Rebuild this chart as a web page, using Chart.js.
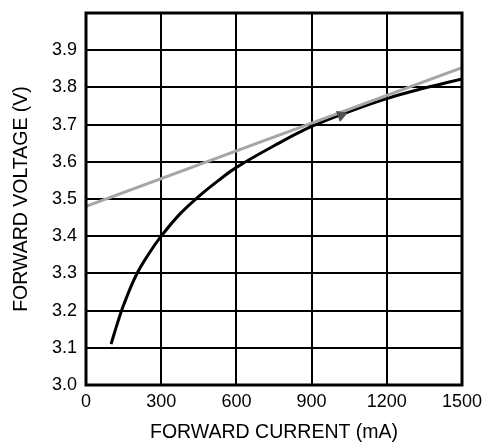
<!DOCTYPE html>
<html>
<head>
<meta charset="utf-8">
<script src="https://cdn.jsdelivr.net/npm/chart.js@4"></script>
<style>
html,body{margin:0;padding:0;background:#fff;}
#wrap{width:482px;height:444px;}
</style>
</head>
<body>
<div id="wrap"><canvas id="c" width="482" height="444"></canvas></div>
<script>
const currentMA = [100, 125, 150, 200, 250, 300, 375, 450, 525, 600, 750, 900, 1050, 1200, 1350, 1500];
const forwardVoltage = [3.11, 3.165, 3.215, 3.295, 3.352, 3.40, 3.46, 3.507, 3.548, 3.585, 3.643, 3.695, 3.735, 3.77, 3.798, 3.823];
const fitCurrent = [0, 1500];
const fitVoltage = [3.48, 3.853];
const markerCurrent = [1018];
const markerVoltage = [3.725];
const xTicks = [0, 300, 600, 900, 1200, 1500];
const yTicks = ['3.0','3.1','3.2','3.3','3.4','3.5','3.6','3.7','3.8','3.9'];

const frame = {
  id: 'frame',
  afterDatasetsDraw(chart) {
    const {ctx, chartArea: a} = chart;
    ctx.save();
    ctx.strokeStyle = '#000';
    ctx.lineWidth = 3;
    ctx.strokeRect(a.left, a.top, a.right - a.left, a.bottom - a.top);
    ctx.restore();
  }
};

const family = 'Liberation Sans, Arial, sans-serif';
const tickFont = {family, size: 18};
const titleFont = {family, size: 19.5};

new Chart(document.getElementById('c'), {
  type: 'scatter',
  data: {
    datasets: [
      {
        data: currentMA.map((x, i) => ({x, y: forwardVoltage[i]})),
        showLine: true, borderColor: '#000', borderWidth: 3,
        pointRadius: 0, tension: 0.4, order: 3
      },
      {
        data: fitCurrent.map((x, i) => ({x, y: fitVoltage[i]})),
        showLine: true, borderColor: '#a6a6a6', borderWidth: 3,
        pointRadius: 0, order: 2
      },
      {
        data: markerCurrent.map((x, i) => ({x, y: markerVoltage[i]})),
        showLine: false, pointStyle: 'triangle', pointRadius: 6, rotation: 70,
        backgroundColor: '#505050', borderColor: '#505050', order: 1
      }
    ]
  },
  options: {
    responsive: false,
    animation: false,
    devicePixelRatio: 1,
    layout: {padding: {top: 13, right: 20, left: 0, bottom: 0}},
    plugins: {legend: {display: false}, tooltip: {enabled: false}},
    scales: {
      x: {
        type: 'linear', min: 0, max: 1500,
        afterBuildTicks: s => { s.ticks = xTicks.map(v => ({value: v})); },
        ticks: {color: '#000', font: tickFont, padding: 6, maxRotation: 0,
          callback: v => String(v)},
        grid: {color: '#000', lineWidth: 2, drawTicks: false},
        border: {display: false},
        title: {display: true, text: 'FORWARD CURRENT (mA)', color: '#000', font: titleFont, padding: {top: 6, bottom: 0}},
        afterFit: s => { s.height = 59; s.paddingLeft = 0; s.paddingRight = 0; }
      },
      y: {
        type: 'linear', min: 3.0, max: 4.0,
        afterBuildTicks: s => { s.ticks = yTicks.map(v => ({value: parseFloat(v)})).concat([{value: 4.0}]); },
        ticks: {color: '#000', font: tickFont, padding: 9,
          callback: (v) => { const t = yTicks.find(s => Math.abs(parseFloat(s) - v) < 1e-6); return t === undefined ? '' : t; }},
        grid: {color: '#000', lineWidth: 2, drawTicks: false},
        border: {display: false},
        title: {display: true, text: 'FORWARD VOLTAGE (V)', color: '#000', font: titleFont, padding: {top: 10, bottom: 4}},
        afterFit: s => { s.width = 86; s.paddingTop = 0; s.paddingBottom = 0; }
      }
    }
  },
  plugins: [frame]
});
</script>
</body>
</html>
